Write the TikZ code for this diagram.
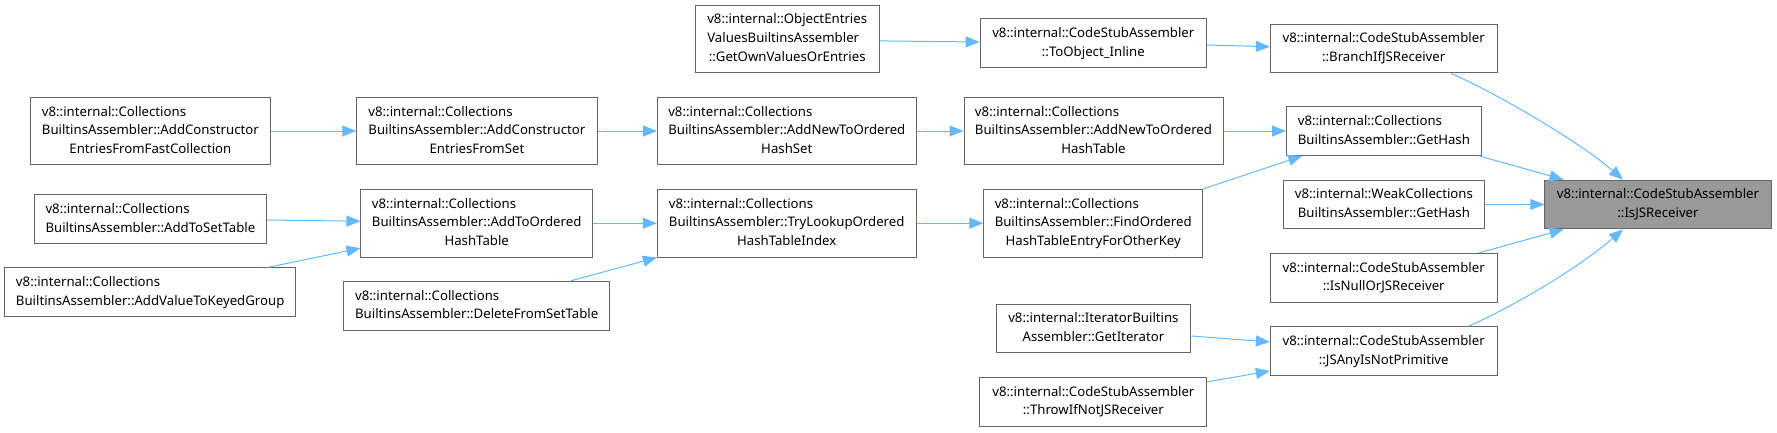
\documentclass[tikz,border=0pt]{standalone}
\usepackage{fontspec}
\setmainfont{Noto Sans}
\usetikzlibrary{arrows.meta,calc}
\definecolor{edgeblue}{HTML}{63B8FF}
\definecolor{boxborder}{HTML}{666666}
\definecolor{hilite}{HTML}{999999}
\newcommand{\lastln}[1]{\multicolumn{1}{@{}c@{}}{#1}}
\tikzset{
  box/.style={draw=boxborder, line width=1pt, fill=white, inner sep=0pt,
    font=\fontsize{13.2}{18.7}\selectfont},
  twoline/.style={box, minimum height=48.7pt},
  threeline/.style={box, minimum height=67.6pt},
  cur/.style={fill=hilite},
  edge/.style={draw=edgeblue, line width=1pt, -{Triangle[length=14pt,width=11pt]}},
}
\begin{document}
\begin{tikzpicture}[x=1pt,y=-1pt]
\useasboundingbox (0,0) rectangle (1777,432);

\node[threeline, minimum width=183.7pt] (OE) at (787.2,38.9)
  {\begin{tabular}{@{}l@{}}v8::internal::ObjectEntries\\ValuesBuiltinsAssembler\\\lastln{::GetOwnValuesOrEntries}\end{tabular}};
\node[twoline, minimum width=226.5pt] (TOI) at (1093.3,43)
  {\begin{tabular}{@{}l@{}}v8::internal::CodeStubAssembler\\\lastln{::ToObject\_Inline}\end{tabular}};
\node[twoline, minimum width=226.6pt] (BIJ) at (1383.7,48.4)
  {\begin{tabular}{@{}l@{}}v8::internal::CodeStubAssembler\\\lastln{::BranchIfJSReceiver}\end{tabular}};

\node[threeline, minimum width=239.6pt] (ACF) at (150.4,131)
  {\begin{tabular}{@{}l@{}}v8::internal::Collections\\BuiltinsAssembler::AddConstructor\\\lastln{EntriesFromFastCollection}\end{tabular}};
\node[threeline, minimum width=240.3pt] (ACS) at (476.9,131)
  {\begin{tabular}{@{}l@{}}v8::internal::Collections\\BuiltinsAssembler::AddConstructor\\\lastln{EntriesFromSet}\end{tabular}};
\node[threeline, minimum width=258.7pt] (ANS) at (786.8,131)
  {\begin{tabular}{@{}l@{}}v8::internal::Collections\\BuiltinsAssembler::AddNewToOrdered\\\lastln{HashSet}\end{tabular}};
\node[threeline, minimum width=259pt] (ANT) at (1093.5,131)
  {\begin{tabular}{@{}l@{}}v8::internal::Collections\\BuiltinsAssembler::AddNewToOrdered\\\lastln{HashTable}\end{tabular}};
\node[twoline, minimum width=194.7pt] (CGH) at (1383.9,131)
  {\begin{tabular}{@{}l@{}}v8::internal::Collections\\\lastln{BuiltinsAssembler::GetHash}\end{tabular}};

\node[twoline, minimum width=232pt] (ATS) at (150.4,219)
  {\begin{tabular}{@{}l@{}}v8::internal::Collections\\\lastln{BuiltinsAssembler::AddToSetTable}\end{tabular}};
\node[threeline, minimum width=231.5pt] (ATO) at (476.7,223.2)
  {\begin{tabular}{@{}l@{}}v8::internal::Collections\\BuiltinsAssembler::AddToOrdered\\\lastln{HashTable}\end{tabular}};
\node[threeline, minimum width=258.6pt] (TLO) at (786.7,223.2)
  {\begin{tabular}{@{}l@{}}v8::internal::Collections\\BuiltinsAssembler::TryLookupOrdered\\\lastln{HashTableIndex}\end{tabular}};
\node[threeline, minimum width=218.8pt] (FOE) at (1093.2,223.2)
  {\begin{tabular}{@{}l@{}}v8::internal::Collections\\BuiltinsAssembler::FindOrdered\\\lastln{HashTableEntryForOtherKey}\end{tabular}};
\node[twoline, minimum width=200.9pt] (WGH) at (1383.9,204.5)
  {\begin{tabular}{@{}l@{}}v8::internal::WeakCollections\\\lastln{BuiltinsAssembler::GetHash}\end{tabular}};
\node[twoline, cur, minimum width=226.5pt] (IJR) at (1658,204.5)
  {\begin{tabular}{@{}l@{}}v8::internal::CodeStubAssembler\\\lastln{::IsJSReceiver}\end{tabular}};

\node[twoline, minimum width=291.2pt] (AVK) at (150.2,292.2)
  {\begin{tabular}{@{}l@{}}v8::internal::Collections\\\lastln{BuiltinsAssembler::AddValueToKeyedGroup}\end{tabular}};
\node[twoline, minimum width=266pt] (DFS) at (476.7,305.7)
  {\begin{tabular}{@{}l@{}}v8::internal::Collections\\\lastln{BuiltinsAssembler::DeleteFromSetTable}\end{tabular}};
\node[twoline, minimum width=226.6pt] (INJ) at (1383.7,277.7)
  {\begin{tabular}{@{}l@{}}v8::internal::CodeStubAssembler\\\lastln{::IsNullOrJSReceiver}\end{tabular}};
\node[twoline, minimum width=194.8pt] (ITB) at (1093.4,328.4)
  {\begin{tabular}{@{}l@{}}v8::internal::IteratorBuiltins\\\lastln{Assembler::GetIterator}\end{tabular}};
\node[twoline, minimum width=226.6pt] (JNP) at (1383.7,351)
  {\begin{tabular}{@{}l@{}}v8::internal::CodeStubAssembler\\\lastln{::JSAnyIsNotPrimitive}\end{tabular}};
\node[twoline, minimum width=226.9pt] (TIN) at (1093.4,401.8)
  {\begin{tabular}{@{}l@{}}v8::internal::CodeStubAssembler\\\lastln{::ThrowIfNotJSReceiver}\end{tabular}};

% edges
\draw[edge] ($(OE.east)+(0,2)$) -- ($(TOI.west)+(0,-1)$);
\draw[edge] ($(TOI.east)+(0,2)$) -- ($(BIJ.west)+(0,-1.7)$);
\draw[edge] ($(BIJ.south)+(67.3,0)$) .. controls +(45,20) and +(-45,-39) .. ($(IJR.north)+(-35,0)$);
\draw[edge] (ACF.east) -- (ACS.west);
\draw[edge] (ACS.east) -- (ANS.west);
\draw[edge] (ANS.east) -- (ANT.west);
\draw[edge] (ANT.east) -- (CGH.west);
\draw[edge] ($(CGH.south)+(95,0)$) -- ($(IJR.north)+(-94.5,0)$);
\draw[edge] (FOE.north east) -- ($(CGH.south west)+(16.2,0)$);
\draw[edge] ($(ATS.east)+(0,1)$) -- ($(ATO.west)+(0,-2)$);
\draw[edge] ($(AVK.north)+(117.8,0)$) -- ($(ATO.west)+(0,25)$);
\draw[edge] (ATO.east) -- (TLO.west);
\draw[edge] ($(DFS.north)+(94,0)$) -- (TLO.south west);
\draw[edge] (TLO.east) -- (FOE.west);
\draw[edge] (WGH.east) -- (IJR.west);
\draw[edge] ($(INJ.north)+(95.3,0)$) -- ($(IJR.south)+(-94.5,0)$);
\draw[edge] ($(JNP.north)+(85,0)$) .. controls +(45,-20) and +(-45,39) .. ($(IJR.south)+(-35,0)$);
\draw[edge] ($(ITB.east)+(0,7.6)$) -- ($(JNP.west)+(0,-9)$);
\draw[edge] ($(TIN.east)+(0,-20)$) -- ($(JNP.west)+(0,20)$);
\end{tikzpicture}
\end{document}
